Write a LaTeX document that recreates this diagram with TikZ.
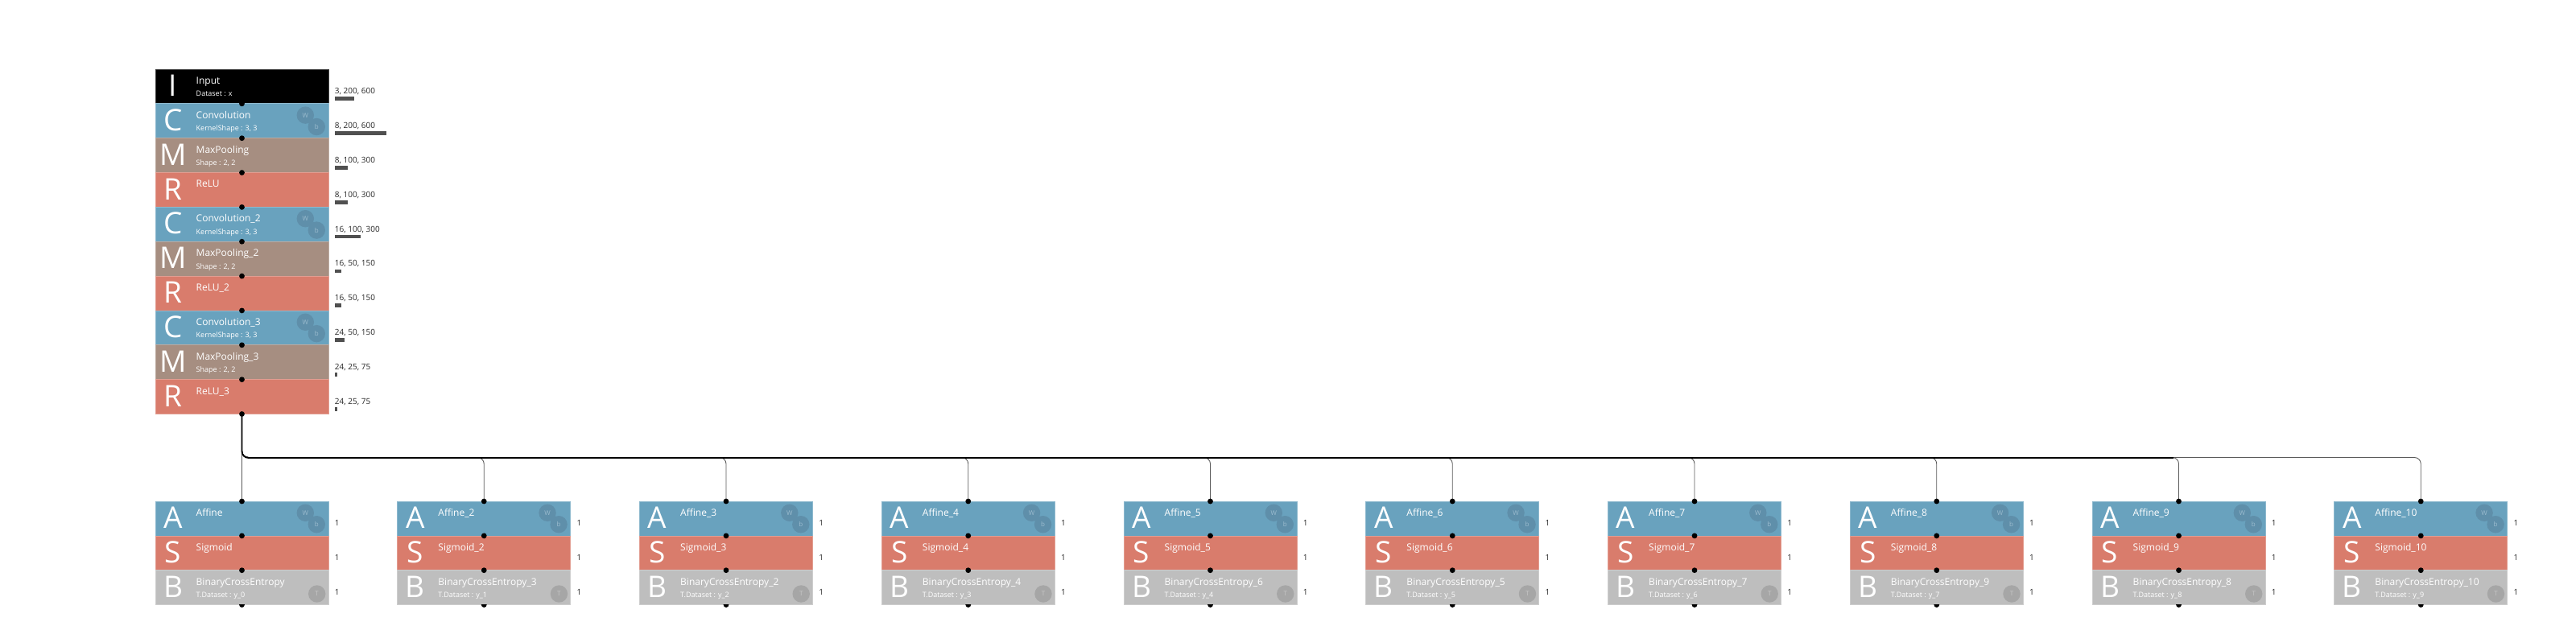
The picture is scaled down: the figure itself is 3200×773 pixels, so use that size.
\documentclass[tikz,border=0pt]{standalone}
\usepackage{fontspec}
\setmainfont{Open Sans}
\usetikzlibrary{calc}
\definecolor{nnblue}{HTML}{69A2BE}
\definecolor{nnbrown}{HTML}{A68E81}
\definecolor{nnred}{HTML}{D97C6C}
\definecolor{nngray}{HTML}{BEBEBE}
\definecolor{parblue}{HTML}{5F8FAA}
\definecolor{partxt}{HTML}{9CBCCF}
\definecolor{pargray}{HTML}{A6A6A6}
\definecolor{pargtxt}{HTML}{C8C8C8}
\definecolor{barcol}{HTML}{505050}
\tikzset{
  rowbox/.style={rectangle, minimum width=215pt, minimum height=42.85pt, inner sep=0pt, outer sep=0pt, anchor=north west},
  bigletter/.style={anchor=base, inner sep=0pt, text=white, font=\fontsize{37}{37}\selectfont},
  titletext/.style={anchor=base west, inner sep=0pt, text=white, font=\fontsize{12}{12}\selectfont},
  subtext/.style={anchor=base west, inner sep=0pt, text=white, font=\fontsize{9}{9}\selectfont},
  dimtext/.style={anchor=base west, inner sep=0pt, text=black!85, font=\fontsize{10}{10}\selectfont},
  parw/.style={circle, fill=parblue, text=partxt, minimum size=21.4pt, inner sep=0pt, font=\fontsize{8}{8}\selectfont},
  part/.style={circle, fill=pargray, text=pargtxt, minimum size=21.4pt, inner sep=0pt, font=\fontsize{8}{8}\selectfont},
  link/.style={draw=black!65, line width=0.9pt, rounded corners=8pt},
  trunk/.style={draw=black, line width=1.7pt, rounded corners=8pt},
}
\newcommand\nnrow[8]{%
  \node[rowbox, fill=#4, draw=#4!75!white, line width=0.7pt] (#1) at (#2,#3) {};
  \node[bigletter] (#1-let) at ($(#1.north west)+(22,33.5)$) {#5};
  \node[titletext] (#1-tit) at ($(#1.north west)+(50.5,18.4)$) {#6};
  \node[subtext] (#1-sub) at ($(#1.north west)+(50.5,34)$) {#7};
  \node[dimtext] (#1-dim) at ($(#1.north west)+(222.7,30.7)$) {#8};
}
\newcommand\nnbar[2]{\fill[barcol] ($(#1.north west)+(222.5,34.3)$) rectangle ++(#2,4.7);}
\newcommand\nnwb[1]{%
  \node[parw] (#1-w) at ($(#1.north west)+(186.3,14.3)$) {W};
  \node[parw] (#1-b) at ($(#1.north west)+(200.3,28.7)$) {b};}
\newcommand\nnt[1]{\node[part] (#1-t) at ($(#1.north west)+(200.7,29.3)$) {T};}
\begin{document}
\begin{tikzpicture}[x=1pt,y=-1pt]
\useasboundingbox (0,0) rectangle (3200,773);
% top chain
\nnrow{input}{193}{86}{black}{I}{Input}{Dataset : x}{3, 200, 600}
\nnrow{conv1}{193}{128.85}{nnblue}{C}{Convolution}{KernelShape : 3, 3}{8, 200, 600}
\nnrow{pool1}{193}{171.7}{nnbrown}{M}{MaxPooling}{Shape : 2, 2}{8, 100, 300}
\nnrow{relu1}{193}{214.55}{nnred}{R}{ReLU}{}{8, 100, 300}
\nnrow{conv2}{193}{257.4}{nnblue}{C}{Convolution\_2}{KernelShape : 3, 3}{16, 100, 300}
\nnrow{pool2}{193}{300.25}{nnbrown}{M}{MaxPooling\_2}{Shape : 2, 2}{16, 50, 150}
\nnrow{relu2}{193}{343.1}{nnred}{R}{ReLU\_2}{}{16, 50, 150}
\nnrow{conv3}{193}{385.95}{nnblue}{C}{Convolution\_3}{KernelShape : 3, 3}{24, 50, 150}
\nnrow{pool3}{193}{428.8}{nnbrown}{M}{MaxPooling\_3}{Shape : 2, 2}{24, 25, 75}
\nnrow{relu3}{193}{471.65}{nnred}{R}{ReLU\_3}{}{24, 25, 75}
\nnwb{conv1}\nnwb{conv2}\nnwb{conv3}
\nnbar{input}{24}\nnbar{conv1}{64}\nnbar{pool1}{16}\nnbar{relu1}{16}
\nnbar{conv2}{32}\nnbar{pool2}{8}\nnbar{relu2}{8}\nnbar{conv3}{12}
\nnbar{pool3}{3}\nnbar{relu3}{3}
% output heads
\foreach \k/\bname/\yy in {1/BinaryCrossEntropy/0, 2/BinaryCrossEntropy\_3/1,
  3/BinaryCrossEntropy\_2/2, 4/BinaryCrossEntropy\_4/3, 5/BinaryCrossEntropy\_6/4,
  6/BinaryCrossEntropy\_5/5, 7/BinaryCrossEntropy\_7/6, 8/BinaryCrossEntropy\_9/7,
  9/BinaryCrossEntropy\_8/8, 10/BinaryCrossEntropy\_10/9}{
  \pgfmathsetmacro\bx{193+(\k-1)*300.75}
  \ifnum\k=1
    \nnrow{aff\k}{\bx}{623}{nnblue}{A}{Affine}{}{1}
    \nnrow{sig\k}{\bx}{665.85}{nnred}{S}{Sigmoid}{}{1}
  \else
    \nnrow{aff\k}{\bx}{623}{nnblue}{A}{Affine\_\k}{}{1}
    \nnrow{sig\k}{\bx}{665.85}{nnred}{S}{Sigmoid\_\k}{}{1}
  \fi
  \nnrow{bce\k}{\bx}{708.7}{nngray}{B}{\bname}{T.Dataset : y\_\yy}{1}
  \nnwb{aff\k}
  \nnt{bce\k}
  \begin{scope}
    \clip ($(bce\k.south west)+(0,0.4)$) rectangle ($(bce\k.south east)+(0,10)$);
    \fill (bce\k.south) circle (3.4pt);
  \end{scope}
}
% connectors
\draw[link] (relu3.south) -- (aff1.north);
\foreach \k in {2,...,10}{
  \draw[link] (relu3.south) -- ++(0,54) -| (aff\k.north);
}
\coordinate (busend) at (2700,569);
\draw[trunk] (relu3.south) |- (busend);
% ports
\foreach \n in {conv1,pool1,relu1,conv2,pool2,relu2,conv3,pool3,relu3}{
  \fill (\n.north) circle (3.4pt);
}
\fill (relu3.south) circle (3.4pt);
\foreach \k in {1,...,10}{
  \fill (aff\k.north) circle (3.4pt);
  \fill (sig\k.north) circle (3.4pt);
  \fill (bce\k.north) circle (3.4pt);
}
\end{tikzpicture}
\end{document}
